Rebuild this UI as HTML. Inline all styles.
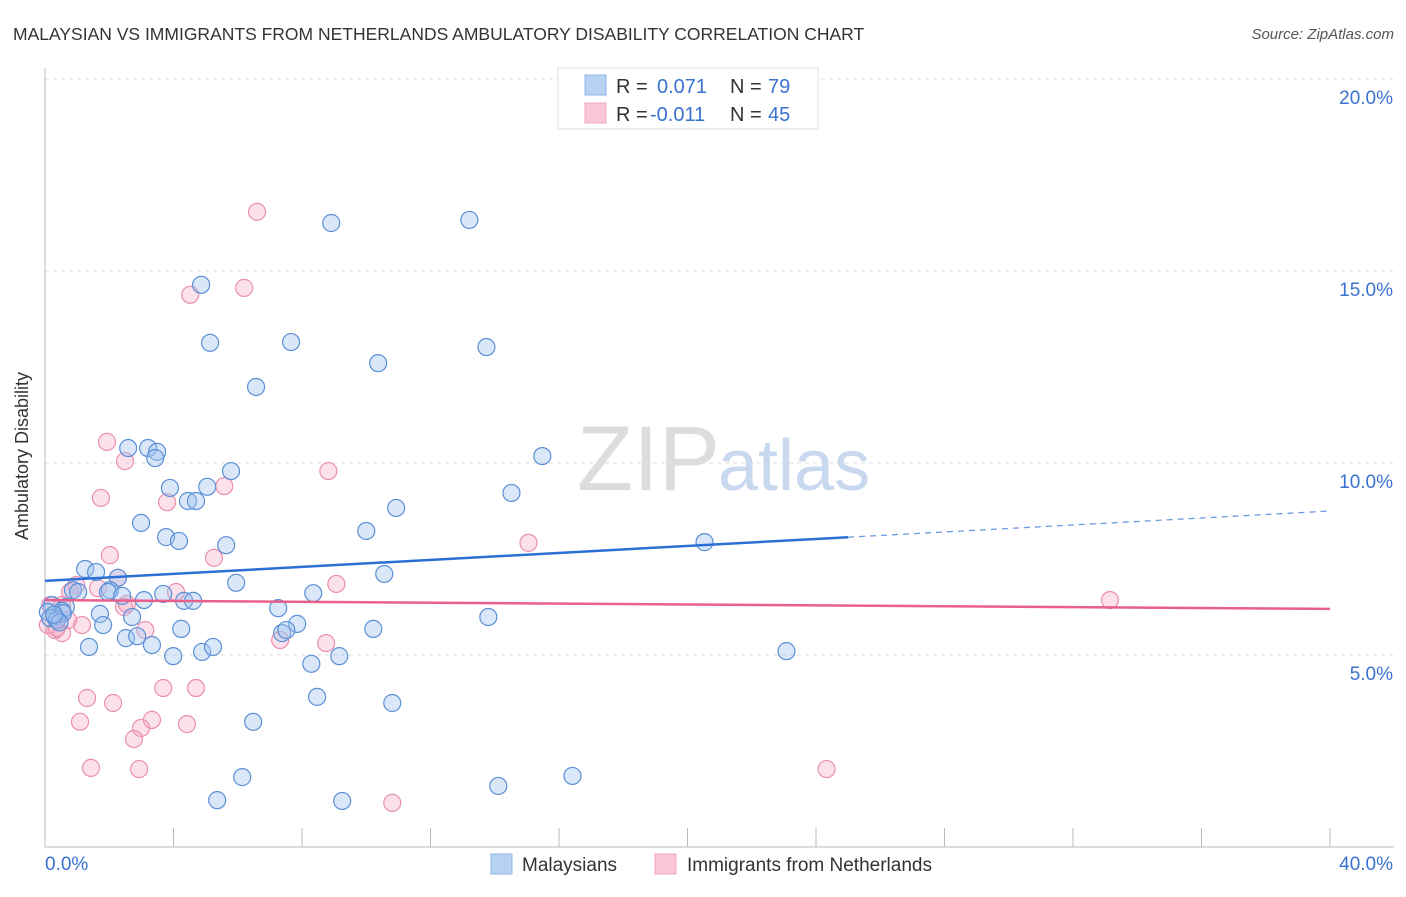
<!DOCTYPE html>
<html><head><meta charset="utf-8"><style>
body{margin:0;background:#fff;font-family:"Liberation Sans",sans-serif;}
svg text{font-family:"Liberation Sans",sans-serif;}
</style></head><body>
<svg id="chart" width="1406" height="892">
<text x="13" y="40" font-size="17.5" fill="#333">MALAYSIAN VS IMMIGRANTS FROM NETHERLANDS AMBULATORY DISABILITY CORRELATION CHART</text>
<text x="1394" y="39" font-size="15" fill="#555" font-style="italic" text-anchor="end">Source: ZipAtlas.com</text>
<text x="28" y="456" font-size="18" fill="#333" text-anchor="middle" transform="rotate(-90 28 456)">Ambulatory Disability</text>
<g id="grid"></g>
<text x="720" y="490" font-size="92" fill="#ddd" text-anchor="end" font-family="Liberation Serif">ZIP</text>
<text x="718" y="490" font-size="72" fill="#c8d8ee">atlas</text>
<g id="pts"></g>
<g id="lines"></g>
<g>
<rect x="558" y="68" width="260" height="61" fill="#fff" stroke="#ddd"/>
<rect x="585" y="75" width="21" height="20" fill="#b8d2f4" stroke="#8fb4e8"/>
<rect x="585" y="103" width="21" height="20" fill="#f9c6d5" stroke="#f0a8bf"/>
<text x="616" y="93" font-size="20" fill="#333">R = </text><text x="657" y="93" font-size="20" fill="#3a72d0">0.071</text>
<text x="730" y="93" font-size="20" fill="#333">N = </text><text x="768" y="93" font-size="20" fill="#3a72d0">79</text>
<text x="616" y="121" font-size="20" fill="#333">R = </text><text x="650" y="121" font-size="20" fill="#3a72d0">-0.011</text>
<text x="730" y="121" font-size="20" fill="#333">N = </text><text x="768" y="121" font-size="20" fill="#3a72d0">45</text>
</g>
<g>
<rect x="491" y="854" width="21" height="20" fill="#b8d2f4" stroke="#8fb4e8"/>
<text x="522" y="871" font-size="19" fill="#333">Malaysians</text>
<rect x="655" y="854" width="21" height="20" fill="#f9c6d5" stroke="#f0a8bf"/>
<text x="687" y="871" font-size="19" fill="#333">Immigrants from Netherlands</text>
</g>
</svg>
<script>
const blueX=[8.91,13.21,4.86,5.14,7.66,13.74,10.37,6.57,2.59,3.21,3.49,3.43,15.48,5.79,3.89,5.05,4.45,4.70,10.93,14.52,2.99,3.77,4.17,5.64,10.00,20.53,1.25,1.59,2.27,2.02,5.95,10.56,0.87,1.03,1.96,2.40,3.08,3.68,4.33,4.61,8.35,0.22,0.65,0.53,0.31,0.09,0.56,1.71,2.71,7.26,7.85,13.80,2.52,2.87,3.33,4.24,7.38,7.51,10.22,1.37,3.99,4.89,5.23,8.29,9.16,23.08,8.47,10.81,6.48,6.14,16.42,5.36,9.25,14.11,0.16,0.37,1.81,0.45,0.28];
const blueY=[16.25,16.33,14.64,13.13,13.15,13.02,12.60,11.98,10.39,10.39,10.29,10.13,10.18,9.79,9.35,9.38,9.01,9.01,8.83,9.22,8.44,8.07,7.97,7.86,8.23,7.94,7.24,7.16,7.01,6.69,6.88,7.11,6.69,6.64,6.64,6.54,6.43,6.59,6.41,6.41,6.61,6.30,6.25,6.15,5.99,6.12,6.09,6.07,5.99,6.22,5.81,5.99,5.44,5.49,5.26,5.68,5.57,5.65,5.68,5.21,4.97,5.08,5.21,4.77,4.97,5.10,3.91,3.75,3.26,1.82,1.85,1.22,1.20,1.59,5.96,5.91,5.78,5.85,6.05];
const pinkX=[6.60,6.20,4.52,1.93,2.49,8.82,1.74,5.58,3.80,5.26,2.02,15.05,0.97,2.27,1.65,4.08,9.07,0.78,2.46,0.53,2.55,33.15,3.12,1.15,0.16,0.31,0.53,0.09,7.32,8.75,1.31,2.12,3.68,4.70,1.09,3.33,2.99,4.42,2.77,1.43,2.93,24.33,10.81,0.37,0.72];
const pinkY=[16.54,14.56,14.38,10.55,10.05,9.79,9.09,9.40,8.98,7.53,7.60,7.92,6.82,7.01,6.74,6.64,6.85,6.64,6.25,6.30,6.33,6.43,5.65,5.78,6.30,5.65,5.57,5.78,5.39,5.31,3.88,3.75,4.14,4.14,3.26,3.31,3.10,3.20,2.81,2.06,2.03,2.03,1.15,5.70,5.91];
const yTicks=[5,10,15,20];
const xTicks=[0,4,8,12,16,20,24,28,32,36,40];
const blueTrend=[6.93,8.75];const blueSolidEnd=25;
const pinkTrend=[6.43,6.20];
const NS='http://www.w3.org/2000/svg';
const X=v=>45+v*32.125, Y=v=>847-v*38.4;
function mk(t,a,p){const e=document.createElementNS(NS,t);for(const k in a)e.setAttribute(k,a[k]);p.appendChild(e);return e;}
const grid=document.getElementById('grid');
yTicks.forEach(t=>{
 const l=mk('line',{x1:45,x2:1394,y1:Y(t),y2:Y(t),stroke:'#ddd','stroke-dasharray':'4,4'},grid);
 
 
 const tx=mk('text',{x:1393,y:Y(t)+25,'font-size':19,fill:'#3a72d0','text-anchor':'end'},grid);tx.textContent=t.toFixed(1)+'%';
 
 
});
mk('line',{x1:45,x2:45,y1:68,y2:847,stroke:'#bbb'},grid);
mk('line',{x1:45,x2:1394,y1:847,y2:847,stroke:'#bbb'},grid);
xTicks.forEach(t=>{
 const l=mk('line',{x1:X(t),x2:X(t),y1:828,y2:847,stroke:'#bbb'},grid);
 
 
});
[[0,'0.0%','start',45],[40,'40.0%','end',1393]].forEach(([v,s,a,px])=>{
 const tx=mk('text',{x:px,y:870,'font-size':19,fill:'#3a72d0','text-anchor':a},grid);tx.textContent=s;
 
 
});
const pts=document.getElementById('pts');
pinkX.forEach((x,i)=>{
 const c=mk('circle',{cx:X(x),cy:Y(pinkY[i]),r:8.5,fill:'rgba(245,170,195,0.35)',stroke:'#ea8fae','stroke-width':1.2},pts);
 
 
});
blueX.forEach((x,i)=>{
 const c=mk('circle',{cx:X(x),cy:Y(blueY[i]),r:8.5,fill:'rgba(160,196,240,0.4)',stroke:'#5b8fd6','stroke-width':1.2},pts);
 
 
});
const lines=document.getElementById('lines');
const by=x=>blueTrend[0]+(blueTrend[1]-blueTrend[0])*x/40;
const py=x=>pinkTrend[0]+(pinkTrend[1]-pinkTrend[0])*x/40;
let l=mk('line',{x1:X(0),y1:Y(by(0)),x2:X(blueSolidEnd),y2:Y(by(blueSolidEnd)),stroke:'#2a6fd4','stroke-width':2.5},lines);


l=mk('line',{x1:X(blueSolidEnd),y1:Y(by(blueSolidEnd)),x2:X(40),y2:Y(by(40)),stroke:'#6a9be0','stroke-width':1.3,'stroke-dasharray':'6,5'},lines);


l=mk('line',{x1:X(0),y1:Y(py(0)),x2:X(40),y2:Y(py(40)),stroke:'#e8608a','stroke-width':2.5},lines);


</script>
</body></html>
